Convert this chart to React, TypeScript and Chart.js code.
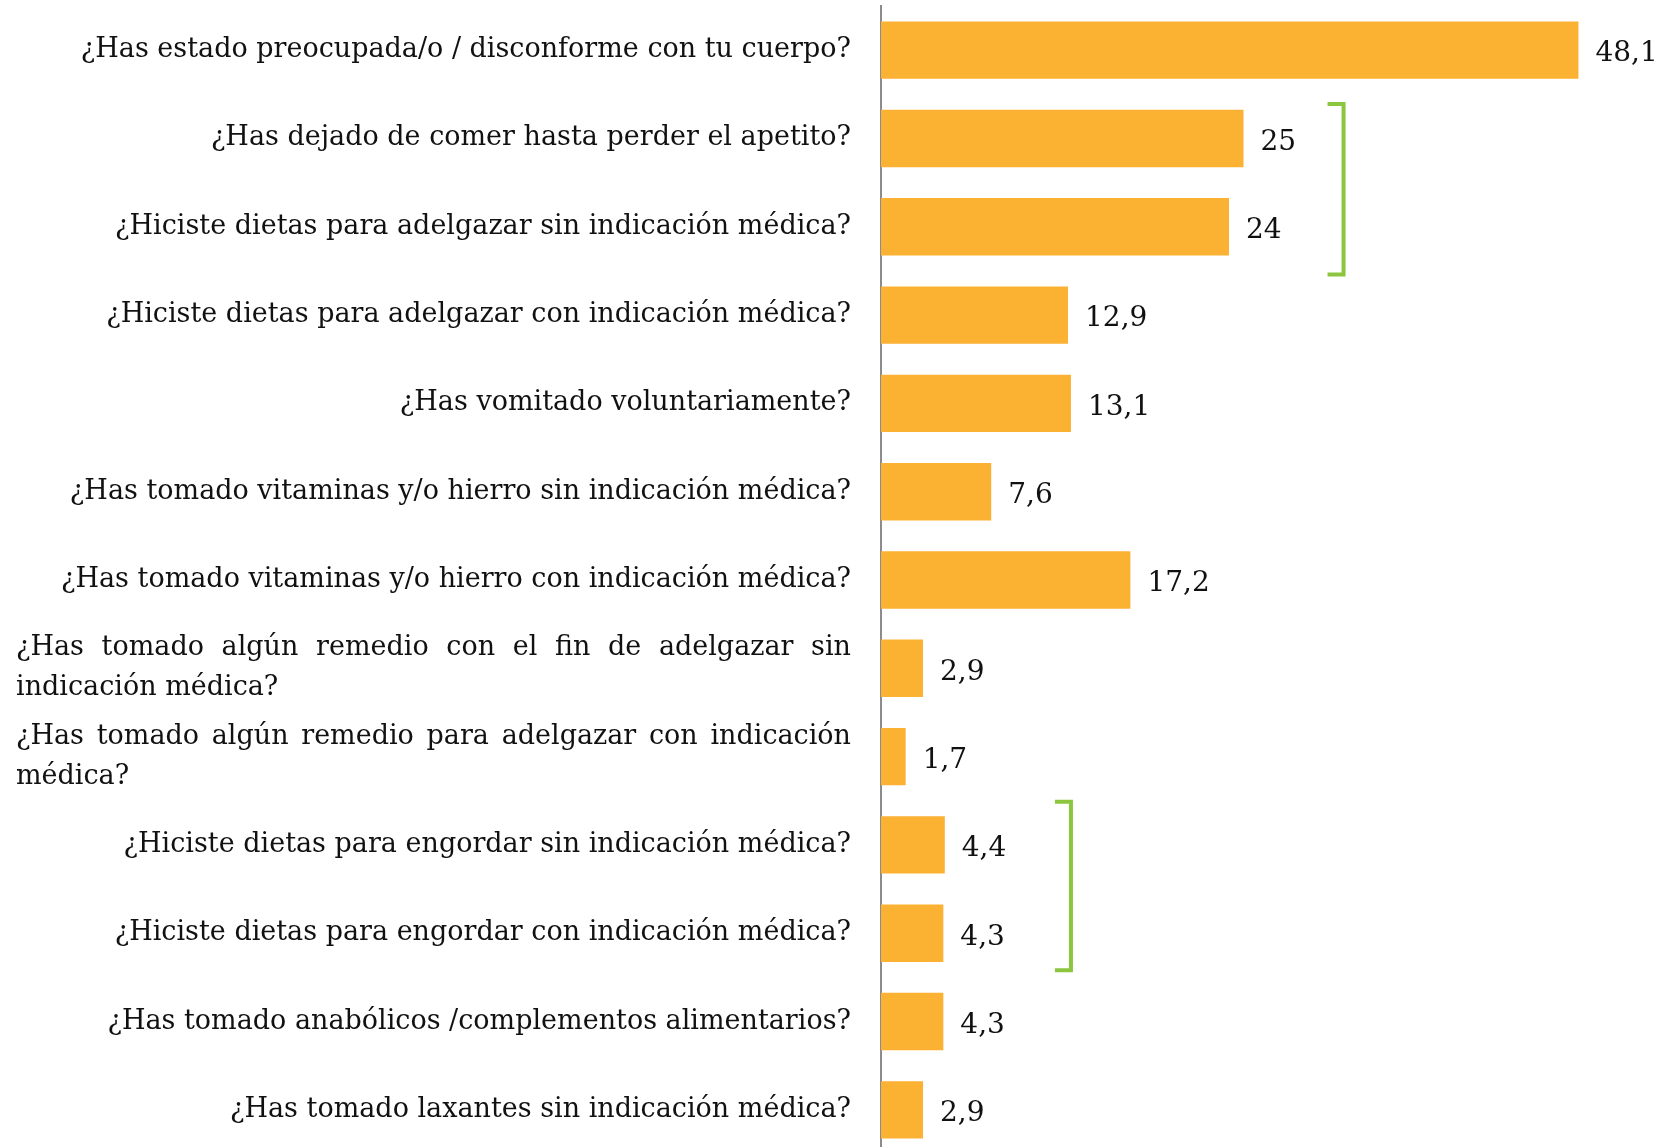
import React, { useEffect, useRef } from "react";
import { Chart, registerables } from "chart.js";

Chart.register(...registerables);

const categories: (string | string[])[] = [
  "¿Has estado preocupada/o / disconforme con tu cuerpo?",
  "¿Has dejado de comer hasta perder el apetito?",
  "¿Hiciste dietas para adelgazar sin indicación médica?",
  "¿Hiciste dietas para adelgazar con indicación médica?",
  "¿Has vomitado voluntariamente?",
  "¿Has tomado vitaminas y/o hierro sin indicación médica?",
  "¿Has tomado vitaminas y/o hierro con indicación médica?",
  ["¿Has tomado algún remedio con el fin de adelgazar sin", "indicación médica?"],
  ["¿Has tomado algún remedio para adelgazar con indicación", "médica?"],
  "¿Hiciste dietas para engordar sin indicación médica?",
  "¿Hiciste dietas para engordar con indicación médica?",
  "¿Has tomado anabólicos /complementos alimentarios?",
  "¿Has tomado laxantes sin indicación médica?",
];

const values: number[] = [48.1, 25, 24, 12.9, 13.1, 7.6, 17.2, 2.9, 1.7, 4.4, 4.3, 4.3, 2.9];

// Bracket annotations: [from category position, to category position, x value]
const brackets: [number, number, number][] = [
  [0.61, 2.54, 31.9],
  [8.51, 10.42, 13.1],
];

const LABEL_FONT = '27px "DejaVu Serif", "Liberation Serif", serif';
const VALUE_FONT = '28px "DejaVu Serif", "Liberation Serif", serif';

const formatValue = (v: number) => String(v).replace(".", ",");

const labelPlugin = {
  id: "customLabels",
  afterDatasetsDraw(chart: any) {
    const { ctx, chartArea } = chart;
    const yScale = chart.scales.y;
    const xScale = chart.scales.x;
    ctx.save();
    // category labels
    ctx.font = LABEL_FONT;
    ctx.fillStyle = "#111";
    ctx.textBaseline = "middle";
    const right = chartArea.left - 30;
    const left = 16;
    categories.forEach((lab, i) => {
      const yc = yScale.getPixelForValue(i);
      if (Array.isArray(lab)) {
        const n = lab.length;
        const lh = 40;
        lab.forEach((line, j) => {
          const y = yc + (j - (n - 1) / 2) * lh;
          if (j < n - 1) {
            const words = line.split(" ");
            const widths = words.map((w) => ctx.measureText(w).width);
            const total = widths.reduce((a, b) => a + b, 0);
            const gap = (right - left - total) / (words.length - 1);
            let x = left;
            ctx.textAlign = "left";
            words.forEach((w, k) => {
              ctx.fillText(w, x, y);
              x += widths[k] + gap;
            });
          } else {
            ctx.textAlign = "left";
            ctx.fillText(line, left, y);
          }
        });
      } else {
        ctx.textAlign = "right";
        ctx.fillText(lab, right, yc);
      }
    });
    // value labels
    ctx.font = VALUE_FONT;
    ctx.textAlign = "left";
    ctx.fillStyle = "#111";
    values.forEach((v, i) => {
      const x = xScale.getPixelForValue(v) + 17;
      const y = yScale.getPixelForValue(i) + 4;
      ctx.fillText(formatValue(v), x, y);
    });
    // brackets
    ctx.strokeStyle = "#8CC63F";
    ctx.lineWidth = 4;
    ctx.lineJoin = "miter";
    ctx.lineCap = "butt";
    brackets.forEach(([a, b, xv]) => {
      const x = xScale.getPixelForValue(xv);
      const y1 = yScale.getPixelForValue(a);
      const y2 = yScale.getPixelForValue(b);
      ctx.beginPath();
      ctx.moveTo(x - 16, y1);
      ctx.lineTo(x, y1);
      ctx.lineTo(x, y2);
      ctx.lineTo(x - 16, y2);
      ctx.stroke();
    });
    ctx.restore();
  },
};

export default function App() {
  const canvasRef = useRef<HTMLCanvasElement | null>(null);

  useEffect(() => {
    if (!canvasRef.current) return;
    const chart = new Chart(canvasRef.current, {
      type: "bar",
      data: {
        labels: categories as any,
        datasets: [
          {
            data: values,
            backgroundColor: "#FBB131",
            borderWidth: 0,
            barPercentage: 0.65,
            categoryPercentage: 1,
          },
        ],
      },
      options: {
        indexAxis: "y",
        animation: false,
        responsive: true,
        maintainAspectRatio: false,
        layout: { padding: { left: 881, right: 63, top: 6, bottom: 6 } },
        plugins: { legend: { display: false }, tooltip: { enabled: false } },
        scales: {
          x: { display: false, min: 0, max: 50 },
          y: {
            display: true,
            ticks: { display: false },
            grid: { display: false, drawTicks: false },
            border: { display: true, color: "#8c8c8c", width: 2 },
            afterFit: (scale: any) => {
              scale.width = 0;
            },
          },
        },
      },
      plugins: [labelPlugin],
    });
    return () => chart.destroy();
  }, []);

  return (
    <div
      style={{
        position: "fixed",
        left: 0,
        top: 0,
        width: 1669,
        height: 1147,
        overflow: "hidden",
        background: "#fff",
      }}
    >
      <div style={{ position: "relative", width: 1669, height: 1160 }}>
        <canvas ref={canvasRef} />
      </div>
    </div>
  );
}
